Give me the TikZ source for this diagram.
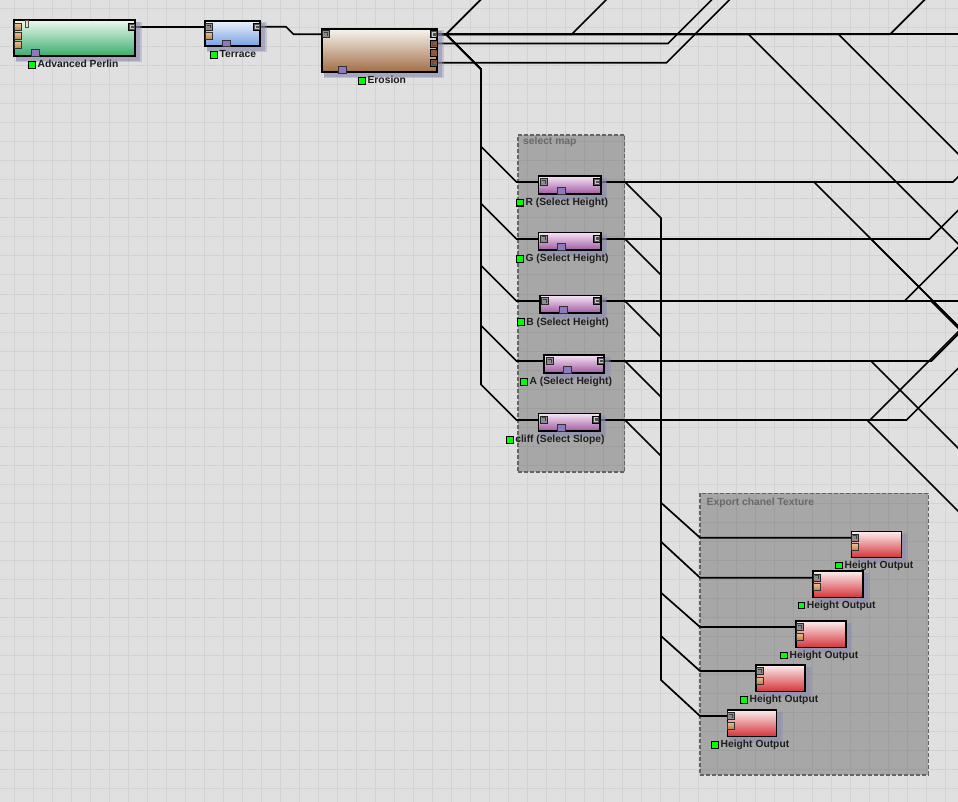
\documentclass[tikz,border=0pt]{standalone}
\usepackage{fontspec}
\setmainfont{Liberation Sans}
\definecolor{bg}{RGB}{224,224,224}
\definecolor{gridc}{RGB}{211,211,211}
\definecolor{shadowc}{RGB}{140,140,175}
\definecolor{gtop}{RGB}{236,250,240}\definecolor{gbot}{RGB}{58,172,108}
\definecolor{btop}{RGB}{236,242,252}\definecolor{bbot}{RGB}{118,160,225}
\definecolor{etop}{RGB}{248,244,240}\definecolor{ebot}{RGB}{160,110,70}
\definecolor{ptop}{RGB}{245,228,245}\definecolor{pbot}{RGB}{160,88,160}
\definecolor{rtop}{RGB}{252,238,238}\definecolor{rbot}{RGB}{212,52,58}
\definecolor{pgreen}{RGB}{0,255,0}
\definecolor{tabpurple}{RGB}{140,122,190}
\definecolor{portdark}{RGB}{80,80,80}
\definecolor{portmid}{RGB}{140,140,140}
\definecolor{portlight}{RGB}{200,200,200}
\definecolor{tanA}{RGB}{236,192,142}\definecolor{tanB}{RGB}{188,128,78}
\definecolor{brownport}{RGB}{140,88,55}
\definecolor{tabtan}{RGB}{235,225,195}
\definecolor{txt}{RGB}{30,30,30}
\definecolor{grptxt}{RGB}{105,105,105}
\definecolor{grpborder}{RGB}{100,100,100}
\newcommand\gsq{{\fboxsep=0pt\fboxrule=1.1pt\fcolorbox{black}{pgreen}{\rule{0pt}{5.6pt}\rule{5.6pt}{0pt}}}}
% name, left, top, right, bottom, top colour, bottom colour
\newcommand\mknode[7]{%
  \fill[shadowc,opacity=0.35] ({#2+2.5},{#3+2.5}) rectangle ({#4+5.5},{#5+5.5});
  \fill[shadowc,opacity=0.5] ({#2+3},{#3+3}) rectangle ({#4+4},{#5+4});
  \node[box, top color=#6, bottom color=#7,
        minimum width={(#4-#2-1.6)*1pt}, minimum height={(#5-#3-1.6)*1pt}]
        (#1) at ({(#2+#4)/2},{(#3+#5)/2}) {};}
\newcommand\inport[2]{%
  \filldraw[fill=portmid, draw=black!85, line width=0.7pt] (#1,#2) rectangle ++(7,7);
  \draw[black!75, line width=0.7pt] ({#1+1.8},{#2+1.8}) -- ++(3.4,0) -- ++(0,3.4);}
\newcommand\outport[2]{%
  \filldraw[fill=portdark, draw=black, line width=0.7pt] (#1,#2) rectangle ++(7,7);
  \draw[portlight, line width=0.7pt] ({#1+5.2},{#2+1.8}) -- ++(-3.4,0) -- ++(0,3.4) -- ++(3.4,0);}
\newcommand\brownport[3]{%
  \filldraw[fill=brownport, draw=black, line width=0.7pt] (#1,#2) rectangle ++(7,7);
  \ifnum#3=1 \draw[portdark, line width=0.9pt] ({#1+5.2},{#2+1.8}) -- ++(-3.4,0) -- ++(0,3.4) -- ++(3.4,0);\fi}
\newcommand\tanport[2]{%
  \filldraw[top color=tanA, bottom color=tanB, draw=black!80, line width=0.7pt] (#1,#2) rectangle ++(7,7);}
\newcommand\tabport[2]{%
  \filldraw[fill=tabpurple, draw=black!80, line width=0.7pt] (#1,#2) rectangle ++(8,6.8);}
\begin{document}
\begin{tikzpicture}[x=1pt,y=-1pt,
  wire/.style={line width=1.7pt, black},
  box/.style={draw=black, line width=1.6pt, inner sep=0pt, rectangle},
  lbl/.style={font=\bfseries\fontsize{10.3}{12}\selectfont, text=txt, inner sep=0pt, anchor=base west},
  grp/.style={fill=black, fill opacity=0.25, draw=grpborder, draw opacity=1, line width=1.4pt, dash pattern=on 4pt off 2pt, inner sep=0pt, rectangle},
  grplbl/.style={font=\bfseries\fontsize{10.3}{12}\selectfont, text=grptxt, inner sep=0pt, anchor=base west}]
\useasboundingbox (0,0) rectangle (958,802);
\clip (0,0) rectangle (958,802);
\fill[bg] (0,0) rectangle (958,802);
\foreach \i in {0,...,50} {\draw[gridc, line width=1pt] ({14.7+19*\i},0) -- ({14.7+19*\i},802);}
\foreach \j in {0,...,42} {\draw[gridc, line width=1pt] (0,{9+19*\j}) -- (958,{9+19*\j});}

% groups
\node[grp, minimum width=106.5pt, minimum height=337pt] (selgrp) at (571.25,303.5) {};
\node[grplbl] (seltitle) at (523,145) {select map};
\node[grp, minimum width=228.3pt, minimum height=281.7pt] (expgrp) at (814.15,634.15) {};
\node[grplbl] (exptitle) at (706.5,505) {Export chanel Texture};

% ports (named)
\coordinate (perlin-out) at (132.5,26.8);
\coordinate (terrace-in) at (208.5,26.8);
\coordinate (terrace-out) at (257,26.8);
\coordinate (ero-in) at (325.5,34.3);
\coordinate (ero-o1) at (434,34.3);
\coordinate (ero-o2) at (434,43.5);
\coordinate (ero-o4) at (434,62.7);
\coordinate (R-in) at (543.5,182);   \coordinate (R-out) at (597,182);
\coordinate (G-in) at (543.5,239);   \coordinate (G-out) at (597,239);
\coordinate (B-in) at (545,301);     \coordinate (B-out) at (597.5,301);
\coordinate (A-in) at (549.5,361);   \coordinate (A-out) at (601,361);
\coordinate (C-in) at (543.7,420);   \coordinate (C-out) at (596.5,420);
\coordinate (H1-in) at (854.5,537.7);
\coordinate (H2-in) at (816,577.7);
\coordinate (H3-in) at (799,627);
\coordinate (H4-in) at (759,671);
\coordinate (H5-in) at (730.5,716);
% free ends outside the view
\coordinate (e1) at (962,34.3);
\coordinate (t1) at (484.3,-4);
\coordinate (t2) at (610,-4);
\coordinate (r1) at (962,247.8);
\coordinate (r2) at (962,157.8);
\coordinate (t3) at (928.3,-4);
\coordinate (t4) at (715.5,-4);
\coordinate (t5) at (733.2,-4);
\coordinate (rR) at (962,173);
\coordinate (rRd) at (962,330);
\coordinate (rG) at (962,206.5);
\coordinate (rGd) at (962,330);
\coordinate (rB) at (962,301);
\coordinate (rBu) at (962,243.5);
\coordinate (rBd) at (962,332);
\coordinate (rA) at (962,330.3);
\coordinate (rAd) at (962,452);
\coordinate (rC) at (962,364.5);
\coordinate (rCu) at (962,328);
\coordinate (rCd) at (962,515);

% wires
\draw[wire] (perlin-out) -- (terrace-in);
\draw[wire] (terrace-out) -- (286,26.8) -- (293.5,34.3) -- (ero-in);
\draw[wire] (ero-o1) -- (e1);
\draw[wire] (ero-o1) -- (446,34.3) -- (t1);
\draw[wire] (ero-o1) -- (571.7,34.3) -- (t2);
\draw[wire] (ero-o1) -- (748.5,34.3) -- (r1);
\draw[wire] (ero-o1) -- (838.5,34.3) -- (r2);
\draw[wire] (ero-o1) -- (890,34.3) -- (t3);
\draw[wire] (ero-o2) -- (668,43.5) -- (t4);
\draw[wire] (ero-o4) -- (666.5,62.7) -- (t5);
\draw[wire] (ero-o1) -- (446,34.3) -- (481,69.3) -- (481,146.5) -- (516.5,182) -- (R-in);
\draw[wire] (ero-o1) -- (446,34.3) -- (481,69.3) -- (481,203.5) -- (516.5,239) -- (G-in);
\draw[wire] (ero-o1) -- (446,34.3) -- (481,69.3) -- (481,265.5) -- (516.5,301) -- (B-in);
\draw[wire] (ero-o1) -- (446,34.3) -- (481,69.3) -- (481,325.5) -- (516.5,361) -- (A-in);
\draw[wire] (ero-o1) -- (446,34.3) -- (481,69.3) -- (481,384.5) -- (516.5,420) -- (C-in);

\draw[wire] (R-out) -- (953,182) -- (rR);
\draw[wire] (R-out) -- (814,182) -- (rRd);
\draw[wire] (R-out) -- (625,182) -- (661,218) -- (661,502.7) -- (700,537.7) -- (H1-in);
\draw[wire] (G-out) -- (929.5,239) -- (rG);
\draw[wire] (G-out) -- (871,239) -- (rGd);
\draw[wire] (G-out) -- (625,239) -- (661,275) -- (661,541.7) -- (700,577.7) -- (H2-in);
\draw[wire] (B-out) -- (rB);
\draw[wire] (B-out) -- (904.5,301) -- (rBu);
\draw[wire] (B-out) -- (931,301) -- (rBd);
\draw[wire] (B-out) -- (625,301) -- (661,337) -- (661,592.7) -- (700,627) -- (H3-in);
\draw[wire] (A-out) -- (931.3,361) -- (rA);
\draw[wire] (A-out) -- (871,361) -- (rAd);
\draw[wire] (A-out) -- (625,361) -- (661,397) -- (661,636) -- (700,671) -- (H4-in);
\draw[wire] (C-out) -- (906.5,420) -- (rC);
\draw[wire] (C-out) -- (870,420) -- (rCu);
\draw[wire] (C-out) -- (867,420) -- (rCd);
\draw[wire] (C-out) -- (625,420) -- (661,456) -- (661,680) -- (700,716) -- (H5-in);

% nodes
\mknode{perlin}{13.3}{19.3}{136}{56.7}{gtop}{gbot}
\tanport{14.3}{23.5}\tanport{14.3}{32.5}\tanport{14.3}{41.5}
\filldraw[fill=tabtan, draw=black!70, line width=0.6pt] (25,20) rectangle (28.5,27);
\outport{128.8}{23.3}
\tabport{31.7}{49.6}
\node[lbl] (perlin-l) at (28,67.7) {\gsq\hspace{1.6pt}Advanced Perlin};

\mknode{terrace}{204}{20}{261}{47}{btop}{bbot}
\inport{205}{23.3}\tanport{205}{32.3}
\outport{253.3}{23.3}
\tabport{222}{40}
\node[lbl] (terrace-l) at (210,57.7) {\gsq\hspace{1.6pt}Terrace};

\mknode{erosion}{321}{28}{438}{73}{etop}{ebot}
\inport{322}{30.7}
\outport{430.3}{30.7}
\brownport{430.3}{40}{1}\brownport{430.3}{49.3}{0}\brownport{430.3}{59.3}{1}
\tabport{338.5}{66.3}
\node[lbl] (erosion-l) at (358,84) {\gsq\hspace{1.6pt}Erosion};

\mknode{selR}{537.5}{175.5}{601.5}{194.8}{ptop}{pbot}
\inport{540}{178.5}\outport{593.5}{178.5}\tabport{557.5}{187.5}
\node[lbl] (selR-l) at (516,205.5) {\gsq\hspace{1.6pt}R (Select Height)};

\mknode{selG}{537.5}{231.7}{601.5}{251}{ptop}{pbot}
\inport{540}{235}\outport{593.5}{235}\tabport{557.5}{243.7}
\node[lbl] (selG-l) at (516,261.7) {\gsq\hspace{1.6pt}G (Select Height)};

\mknode{selB}{539}{294.7}{601.5}{314}{ptop}{pbot}
\inport{541.5}{297.5}\outport{593.5}{297.5}\tabport{559}{306.7}
\node[lbl] (selB-l) at (516.7,325) {\gsq\hspace{1.6pt}B (Select Height)};

\mknode{selA}{543}{354.3}{605}{373.7}{ptop}{pbot}
\inport{546}{357.3}\outport{597.3}{357.3}\tabport{563}{366.3}
\node[lbl] (selA-l) at (520,384.5) {\gsq\hspace{1.6pt}A (Select Height)};

\mknode{selC}{537.5}{412.7}{600.5}{432}{ptop}{pbot}
\inport{540.2}{416}\outport{592.5}{416}\tabport{557.5}{424.7}
\node[lbl] (selC-l) at (505.7,442.5) {\gsq\hspace{1.6pt}cliff (Select Slope)};

\mknode{ho1}{850.7}{530.7}{902.3}{558.3}{rtop}{rbot}
\inport{851.5}{534}\tanport{851.5}{543.5}
\node[lbl] (ho1-l) at (835,568.3) {\gsq\hspace{1.6pt}Height Output};

\mknode{ho2}{812.3}{570.3}{864}{598.3}{rtop}{rbot}
\inport{813}{574}\tanport{813}{583.5}
\node[lbl] (ho2-l) at (797.3,608.2) {\gsq\hspace{1.6pt}Height Output};

\mknode{ho3}{795.3}{620.3}{846.7}{648.3}{rtop}{rbot}
\inport{796}{623.5}\tanport{796}{633}
\node[lbl] (ho3-l) at (780,658.2) {\gsq\hspace{1.6pt}Height Output};

\mknode{ho4}{755.3}{664.3}{806}{692.3}{rtop}{rbot}
\inport{756}{667.5}\tanport{756}{677}
\node[lbl] (ho4-l) at (740,702.5) {\gsq\hspace{1.6pt}Height Output};

\mknode{ho5}{726.7}{709.3}{777.3}{737.3}{rtop}{rbot}
\inport{727.3}{712.5}\tanport{727.3}{722}
\node[lbl] (ho5-l) at (711,747.5) {\gsq\hspace{1.6pt}Height Output};
\end{tikzpicture}
\end{document}
